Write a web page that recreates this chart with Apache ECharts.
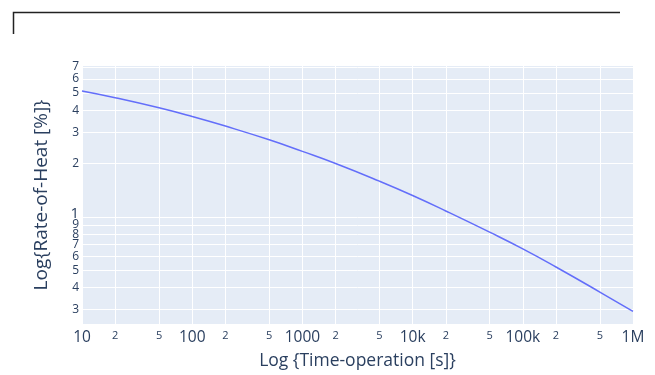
<!DOCTYPE html>
<html>
<head>
<meta charset="utf-8">
<script src="https://cdn.jsdelivr.net/npm/echarts@6/dist/echarts.min.js"></script>
<style>
html,body{margin:0;padding:0;background:#fff;}
#chart{width:655px;height:375px;}
</style>
</head>
<body>
<div id="chart"></div>
<script>
// Data
var timeValues = [10, 20, 50, 100, 200, 500, 1000, 2000, 5000, 10000, 20000, 50000, 100000, 200000, 500000, 1000000];
var rateValues = [5.13, 4.70, 4.12, 3.68, 3.25, 2.72, 2.34, 2.00, 1.59, 1.32, 1.08, 0.82, 0.66, 0.522, 0.377, 0.293];
var xTickValues = [10, 20, 50, 100, 200, 500, 1000, 2000, 5000, 10000, 20000, 50000, 100000, 200000, 500000, 1000000];
var xTickLabels = ['10', '2', '5', '100', '2', '5', '1000', '2', '5', '10k', '2', '5', '100k', '2', '5', '1M'];
var yTickValues = [0.3, 0.4, 0.5, 0.6, 0.7, 0.8, 0.9, 1, 2, 3, 4, 5, 6, 7];
var yTickLabels = ['3', '4', '5', '6', '7', '8', '9', '1', '2', '3', '4', '5', '6', '7'];

var seriesData = timeValues.map(function (t, i) { return [t, rateValues[i]]; });

function findIndex(arr, v) {
  for (var i = 0; i < arr.length; i++) {
    if (Math.abs(arr[i] - v) / arr[i] < 1e-6) return i;
  }
  return -1;
}

var chart = echarts.init(document.getElementById('chart'), null, {renderer: 'canvas'});
var fontFam = '"Open Sans", verdana, arial, sans-serif';
chart.setOption({
  backgroundColor: '#ffffff',
  animation: false,
  grid: {left: 82, right: 22, top: 66, bottom: 50, show: true, backgroundColor: '#E5ECF6', borderWidth: 0},
  xAxis: {
    type: 'log', logBase: 10, min: 10, max: 1000000,
    name: 'Log {Time-operation [s]}', nameLocation: 'middle', nameGap: 28,
    nameTextStyle: {fontFamily: fontFam, fontSize: 17.5, color: '#2a3f5f'},
    axisLine: {show: false}, axisTick: {show: false, customValues: xTickValues},
    splitLine: {show: true, lineStyle: {color: '#ffffff', width: 1}},
    axisLabel: {
      customValues: xTickValues, margin: 6, fontFamily: fontFam, color: '#2a3f5f',
      formatter: function (v) {
        var i = findIndex(xTickValues, v);
        var s = i >= 0 ? xTickLabels[i] : '';
        return (s.length === 1) ? '{s|' + s + '}' : '{b|' + s + '}';
      },
      rich: {b: {fontSize: 15.5, fontFamily: fontFam, color: '#2a3f5f'}, s: {fontSize: 11, fontFamily: fontFam, color: '#2a3f5f'}}
    }
  },
  yAxis: {
    type: 'log', logBase: 10, min: 0.249, max: 7.09,
    name: 'Log{Rate-of-Heat [%]}', nameLocation: 'middle', nameGap: 31,
    nameTextStyle: {fontFamily: fontFam, fontSize: 19, color: '#2a3f5f'},
    axisLine: {show: false}, axisTick: {show: false, customValues: yTickValues},
    splitLine: {show: true, lineStyle: {color: '#ffffff', width: 1}},
    axisLabel: {
      customValues: yTickValues, margin: 3, fontFamily: fontFam, color: '#2a3f5f',
      formatter: function (v) {
        var i = findIndex(yTickValues, v);
        var s = i >= 0 ? yTickLabels[i] : '';
        return (Math.abs(v - 1) < 1e-6) ? '{b|' + s + '}' : '{s|' + s + '}';
      },
      rich: {b: {fontSize: 15, fontFamily: fontFam, color: '#2a3f5f', padding: [0, 0, 6, 0]}, s: {fontSize: 12, fontFamily: fontFam, color: '#2a3f5f'}}
    }
  },
  series: [{
    type: 'line', data: seriesData, smooth: true, showSymbol: false,
    lineStyle: {color: '#636efa', width: 1.5}, itemStyle: {color: '#636efa'}
  }],
  graphic: [{
    type: 'polyline', silent: true,
    shape: {points: [[13.5, 34], [13.5, 12.5], [620, 12.5]]},
    style: {stroke: '#222222', lineWidth: 1.5, fill: null}
  }]
});
</script>
</body>
</html>
